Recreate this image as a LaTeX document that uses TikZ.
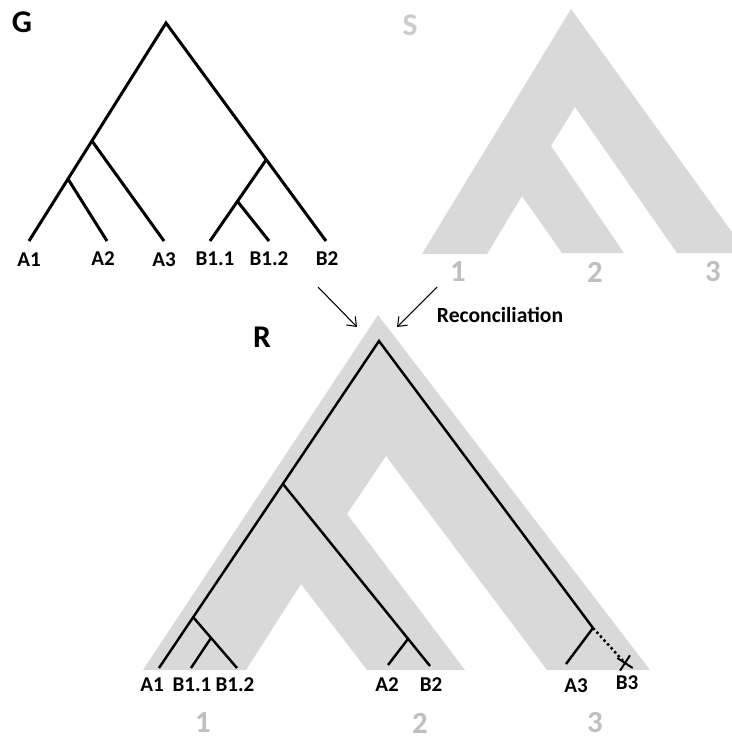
\documentclass[tikz,border=0pt]{standalone}
\usepackage{fontspec}
\setmainfont{Carlito}
\usetikzlibrary{arrows.meta,shapes.misc}
\definecolor{spgray}{HTML}{D9D9D9}
\definecolor{numgray}{HTML}{BFBFBF}
\definecolor{letgray}{HTML}{CCCCCC}

\begin{document}
\begin{tikzpicture}[x=0.02cm,y=-0.02cm,
  leaf/.style={font=\fontsize{12}{14}\selectfont\bfseries},
  title/.style={font=\fontsize{18}{21}\selectfont\bfseries},
  sp/.style={font=\fontsize{17.5}{20}\selectfont\bfseries,text=numgray,inner sep=0pt},
  gtree/.style={line width=1.7pt},
  rtree/.style={line width=1.4pt},
  recarrow/.style={line width=0.6pt,-{Straight Barb[length=4.5pt,width=7pt]}}]
\useasboundingbox (0,0) rectangle (732,740);
\fill[spgray] (422,254) -- (571,9) -- (747,253) -- (677,253) -- (575,107) -- (551,146) -- (624,253) -- (562,253) -- (522,196) -- (487,254) -- cycle;
\fill[spgray] (143,670) -- (378,315) -- (650,670) -- (547,670) -- (386,456) -- (347,514) -- (465,670) -- (367,670) -- (301,584) -- (246,670) -- cycle;
\node[title] (glabel) at (22,22) {G};
\node[title,text=letgray] (slabel) at (410,25) {S};
\node[title] (rlabel) at (262,337) {R};
\coordinate (groot) at (166,23);
\coordinate (ga) at (92,141);
\coordinate (ga12) at (68,179);
\coordinate (gb) at (266,160);
\coordinate (gb1) at (238,202);
\coordinate (gA1) at (29,241);
\coordinate (gA2) at (107,241);
\coordinate (gA3) at (164,241);
\coordinate (gB11) at (210,241);
\coordinate (gB12) at (269,241);
\coordinate (gB2) at (326,241);
\draw[gtree] (gA1) -- (groot) -- (gB2);
\draw[gtree] (ga12) -- (gA2);
\draw[gtree] (ga) -- (gA3);
\draw[gtree] (gb) -- (gB11);
\draw[gtree] (gb1) -- (gB12);
\node[leaf] (tA1) at (29,260) {A1};
\node[leaf] (tA2) at (103,259) {A2};
\node[leaf] (tA3) at (164,260) {A3};
\node[leaf] (tB11) at (215,259) {B1.1};
\node[leaf] (tB12) at (269,259) {B1.2};
\node[leaf] (tB2) at (327,259) {B2};
\node[sp] (s1) at (458,272) {1};
\node[sp] (s2) at (595,272) {2};
\node[sp] (s3) at (713,272) {3};
\coordinate (ar1s) at (318,287);
\coordinate (ar1e) at (357,327);
\coordinate (ar2s) at (437,287);
\coordinate (ar2e) at (397,327);
\draw[recarrow] (ar1s) -- (ar1e);
\draw[recarrow] (ar2s) -- (ar2e);
\node[font=\fontsize{12.3}{14}\selectfont\bfseries] (rec) at (500,315) {Reconciliation};
\coordinate (rroot) at (379,341);
\coordinate (rleft) at (283,484);
\coordinate (r1) at (193,617);
\coordinate (rb1) at (211,638);
\coordinate (r2) at (408,639);
\coordinate (r3) at (593,628);
\coordinate (rA1) at (159,668);
\coordinate (rB11) at (191,668);
\coordinate (rB12) at (237,668);
\coordinate (rA2) at (388,665);
\coordinate (rB2) at (430,666);
\coordinate (rA3) at (566,664);
\draw[rtree] (rA1) -- (rroot) -- (r3);
\draw[rtree] (r1) -- (rB12);
\draw[rtree] (rb1) -- (rB11);
\draw[rtree] (rleft) -- (rB2);
\draw[rtree] (r2) -- (rA2);
\draw[rtree] (r3) -- (rA3);
\node[draw,cross out,line width=1.1pt,minimum size=0.22cm,inner sep=0pt,rotate=12] (rx) at (625,663) {};
\draw[line width=1.4pt,dash pattern=on 1.4pt off 1.6pt] (r3) -- (rx.center);
\node[leaf] (uA1) at (152,685) {A1};
\node[leaf] (uB11) at (192,685) {B1.1};
\node[leaf] (uB12) at (235,685) {B1.2};
\node[leaf] (uA2) at (387,685) {A2};
\node[leaf] (uB2) at (431,685) {B2};
\node[leaf] (uA3) at (576,686) {A3};
\node[leaf] (uB3) at (627,683) {B3};
\node[sp] (n1) at (203,723) {1};
\node[sp] (n2) at (420,723) {2};
\node[sp] (n3) at (595,723) {3};
\end{tikzpicture}
\end{document}
